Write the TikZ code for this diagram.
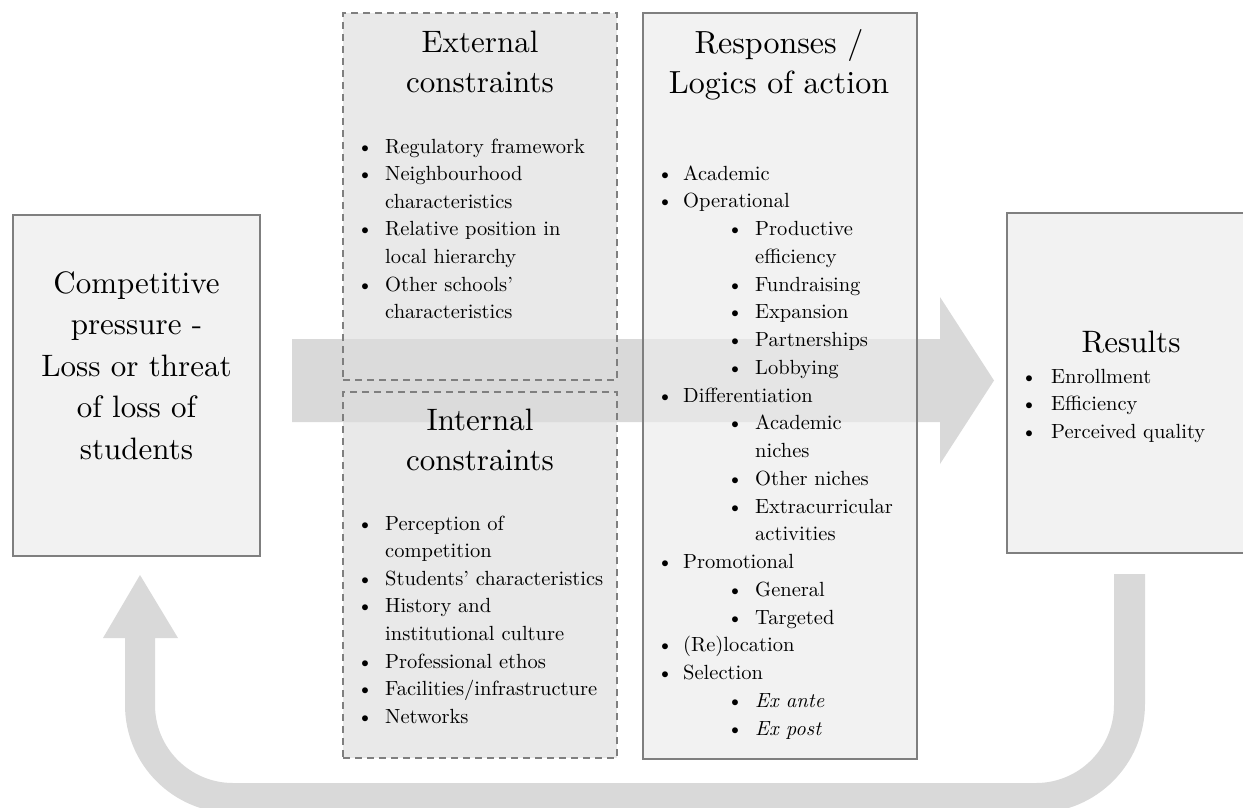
\documentclass[tikz,border=0pt]{standalone}
\usepackage{fontspec}
\setmainfont{lmroman10-regular}[Extension=.otf, ItalicFont=lmroman10-italic, BoldFont=lmroman10-bold]
\definecolor{boxfill}{HTML}{F2F2F2}
\definecolor{boxline}{HTML}{7F7F7F}
\definecolor{arrowgray}{HTML}{D9D9D9}
\definecolor{dashfill}{HTML}{DDDDDD}
\definecolor{respfill}{HTML}{ECECEC}
\newcommand\CL[1]{\vtop{\halign{\hfil##\hfil\cr#1\crcr}}}
\newcommand\LL[1]{\vtop{\halign{##\hfil\cr#1\crcr}}}
\newcommand\bl[2]{\makebox[#1][l]{\textbullet}\LL{#2}}
\tikzset{
  solidbox/.style={draw=boxline, line width=2.5pt, fill=boxfill, inner sep=0pt, outer sep=0pt},
  respbox/.style={draw=boxline, line width=2.5pt, fill=respfill, fill opacity=0.68, inner sep=0pt, outer sep=0pt},
  dashbox/.style={draw=boxline, line width=2.5pt, dash pattern=on 7pt off 5pt, fill=dashfill, fill opacity=0.66, inner sep=0pt, outer sep=0pt},
  bigtitle/.style={inner sep=0pt, anchor=base, font=\fontsize{31}{40}\selectfont},
  itemtext/.style={inner sep=0pt, anchor=base west, font=\fontsize{20.5}{27.7}\selectfont},
  arrowshape/.style={fill=arrowgray, draw=none}
}
\begin{document}
\begin{tikzpicture}[x=1pt,y=-1pt]
\useasboundingbox (0,0) rectangle (1243,807);
% main arrow (behind boxes)
\path[arrowshape] (292,339) -- (940,339) -- (940,297) -- (994,380.5) -- (940,464) -- (940,422) -- (292,422) -- cycle;
% return U-turn arrow
\path[arrowshape] (125,638) -- (125,705) arc[start angle=180, end angle=90, radius=108]
  -- (1036,813) arc[start angle=90, end angle=0, radius=109]
  -- (1145,574) -- (1114,574) -- (1114,705) arc[start angle=0, end angle=90, radius=78]
  -- (233,783) arc[start angle=90, end angle=180, radius=78]
  -- (155,638) -- (178,638) -- (140,575) -- (103,638) -- cycle;

% boxes
\node[solidbox, minimum width=247pt, minimum height=341pt] (comp) at (136.5,385.5) {};
\node[dashbox, minimum width=274pt, minimum height=367pt] (ext) at (480,196.5) {};
\node[dashbox, minimum width=274pt, minimum height=366pt] (int) at (480,575) {};
\node[respbox, minimum width=274pt, minimum height=746pt] (resp) at (780,386) {};
\node[solidbox, minimum width=248pt, minimum height=340pt] (res) at (1131,383) {};

% competitive pressure
\node[inner sep=0pt, anchor=base, font=\fontsize{31}{41.5}\selectfont] (compt) at (136.5,293)
  {\CL{Competitive\cr pressure -\cr Loss or threat\cr of loss of\cr students}};

% external
\node[bigtitle] (extt) at (480,52) {\CL{External\cr constraints}};
\node[itemtext] (e1) at (357,153) {\bl{28pt}{Regulatory framework}};
\node[itemtext] (e2) at (357,180.6) {\bl{28pt}{Neighbourhood\cr characteristics}};
\node[itemtext] (e3) at (357,235.8) {\bl{28pt}{Relative position in\cr local hierarchy}};
\node[itemtext] (e4) at (357,291) {\bl{28pt}{Other schools’\cr characteristics}};

% internal
\node[bigtitle] (intt) at (480,430) {\CL{Internal\cr constraints}};
\node[itemtext] (i1) at (357,530) {\bl{28pt}{Perception of\cr competition}};
\node[itemtext] (i2) at (357,585.2) {\bl{28pt}{Students’ characteristics}};
\node[itemtext] (i3) at (357,612.8) {\bl{28pt}{History and\cr institutional culture}};
\node[itemtext] (i4) at (357,668) {\bl{28pt}{Professional ethos}};
\node[itemtext] (i5) at (357,695.6) {\bl{28pt}{Facilities/infrastructure}};
\node[itemtext] (i6) at (357,723.2) {\bl{28pt}{Networks}};

% responses
\node[bigtitle, font=\fontsize{32}{40}\selectfont] (respt) at (779,53) {\CL{Responses /\cr Logics of action}};
\node[itemtext] (r1) at (657,180) {\bl{26pt}{Academic}};
\node[itemtext] (r2) at (657,207.75) {\bl{26pt}{Operational}};
\node[itemtext] (r3) at (727,235.5) {\bl{28pt}{Productive\cr efficiency}};
\node[itemtext] (r4) at (727,291) {\bl{28pt}{Fundraising}};
\node[itemtext] (r5) at (727,318.75) {\bl{28pt}{Expansion}};
\node[itemtext] (r6) at (727,346.5) {\bl{28pt}{Partnerships}};
\node[itemtext] (r7) at (727,374.25) {\bl{28pt}{Lobbying}};
\node[itemtext] (r8) at (657,402) {\bl{26pt}{Differentiation}};
\node[itemtext] (r9) at (727,429.75) {\bl{28pt}{Academic\cr niches}};
\node[itemtext] (r10) at (727,485.25) {\bl{28pt}{Other niches}};
\node[itemtext] (r11) at (727,513) {\bl{28pt}{Extracurricular\cr activities}};
\node[itemtext] (r12) at (657,568.5) {\bl{26pt}{Promotional}};
\node[itemtext] (r13) at (727,596.25) {\bl{28pt}{General}};
\node[itemtext] (r14) at (727,624) {\bl{28pt}{Targeted}};
\node[itemtext] (r15) at (657,651.75) {\bl{26pt}{(Re)location}};
\node[itemtext] (r16) at (657,679.5) {\bl{26pt}{Selection}};
\node[itemtext] (r17) at (727,707.25) {\bl{28pt}{\textit{Ex ante}}};
\node[itemtext] (r18) at (727,735) {\bl{28pt}{\textit{Ex post}}};

% results
\node[bigtitle] (rest) at (1131,352) {Results};
\node[itemtext] (s1) at (1021,383) {\bl{30pt}{Enrollment}};
\node[itemtext] (s2) at (1021,410.5) {\bl{30pt}{Efficiency}};
\node[itemtext] (s3) at (1021,438) {\bl{30pt}{Perceived quality}};
\end{tikzpicture}
\end{document}
